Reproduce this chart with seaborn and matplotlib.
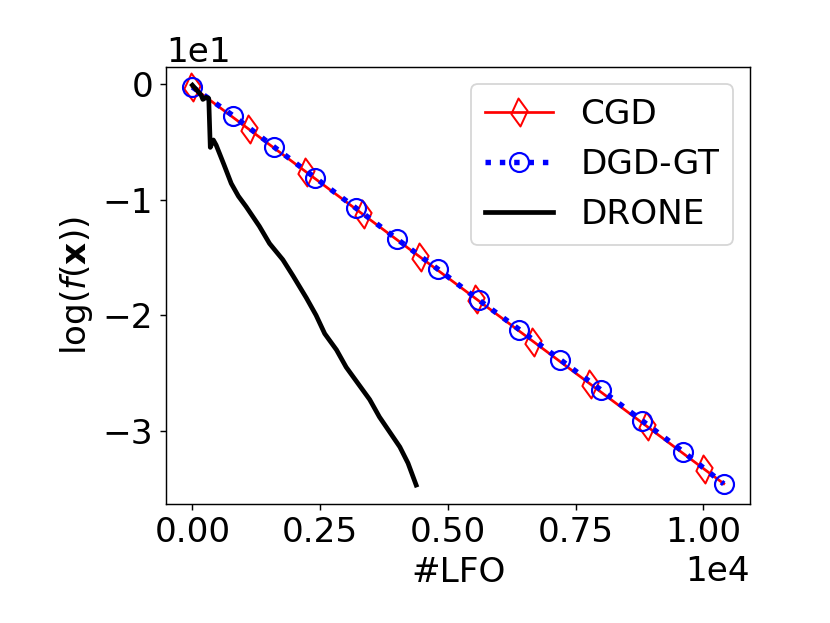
import numpy as np
import pandas as pd
import matplotlib
matplotlib.use("Agg")
import matplotlib.pyplot as plt
from matplotlib.path import Path
import seaborn as sns

plt.rcParams['font.size'] = 19
plt.rcParams['font.family'] = ['DejaVu Sans']

# ---- data ----
cgd_x = [0, 1112, 2224, 3336, 4448, 5560, 6672, 7784, 8896, 10008, 10400]
cgd_y = [-0.26, -3.93, -7.60, -11.27, -14.94, -18.61, -22.28, -25.95, -29.62, -33.29, -34.58]

dgd_x = [0, 800, 1600, 2400, 3200, 4000, 4800, 5600, 6400, 7200, 8000, 8800, 9600, 10400]
dgd_y = [-0.26, -2.75, -5.45, -8.1, -10.73, -13.4, -16.0, -18.67, -21.25, -23.85, -26.48, -29.12, -31.8, -34.6]

drone_x = [0, 170, 205, 270, 320, 350, 410, 465, 530, 620, 760, 900, 1050, 1310, 1510,
           1770, 1970, 2230, 2420, 2590, 2820, 3010, 3240, 3470, 3660, 3860, 4060, 4220, 4380]
drone_y = [-0.1, -0.95, -1.33, -1.15, -1.24, -5.48, -4.84, -5.28, -6.0, -7.0, -8.6, -9.7, -10.6,
           -12.3, -13.8, -15.2, -16.6, -18.5, -20.0, -21.6, -23.0, -24.5, -25.9, -27.3, -28.8,
           -30.1, -31.4, -32.8, -34.7]

labels = ["CGD", "DGD-GT", "DRONE"]
xticks = [0, 2500, 5000, 7500, 10000]
yticks = [0, -10, -20, -30]

# ---- figure ----
fig = plt.figure(figsize=(830 / 130, 623 / 130), dpi=130)
ax = fig.add_axes([0.1998, 0.1917, 0.7042, 0.7003])

diamond = Path([(-0.07, 1.0), (0.58, 0.11), (0.07, -1.0), (-0.58, -0.11), (-0.07, 1.0)],
               [Path.MOVETO, Path.LINETO, Path.LINETO, Path.LINETO, Path.CLOSEPOLY])

df_cgd = pd.DataFrame({"x": cgd_x, "y": cgd_y})
df_dgd = pd.DataFrame({"x": dgd_x, "y": dgd_y})
df_drone = pd.DataFrame({"x": drone_x, "y": drone_y})

sns.lineplot(data=df_cgd, x="x", y="y", ax=ax, color="red", lw=1.5,
             marker=diamond, markevery=list(range(len(cgd_x) - 1)), ms=15.5,
             mfc="none", mec="red", mew=1.1, label=labels[0])
sns.lineplot(data=df_dgd, x="x", y="y", ax=ax, color="blue", lw=3, linestyle=":",
             marker="o", ms=10.5, mfc="none", mec="blue", mew=1.2, label=labels[1])
sns.lineplot(data=df_drone, x="x", y="y", ax=ax, color="black", lw=2.6, label=labels[2])

ax.set_xlim(-520, 10920)
ax.set_ylim(-36.3, 1.45)
ax.set_xticks(xticks)
ax.set_yticks(yticks)
ax.ticklabel_format(style="sci", axis="both", scilimits=(0, 0))
ax.tick_params(labelsize=19)
ax.xaxis.get_offset_text().set_fontsize(19)
ax.yaxis.get_offset_text().set_fontsize(19)

ax.set_xlabel("#LFO", fontsize=19)
ax.set_ylabel(r"log($f(\mathbf{x})$)", fontsize=19)

ax.legend(loc="upper right", fontsize=19)

fig.savefig("out.png", dpi=130)
